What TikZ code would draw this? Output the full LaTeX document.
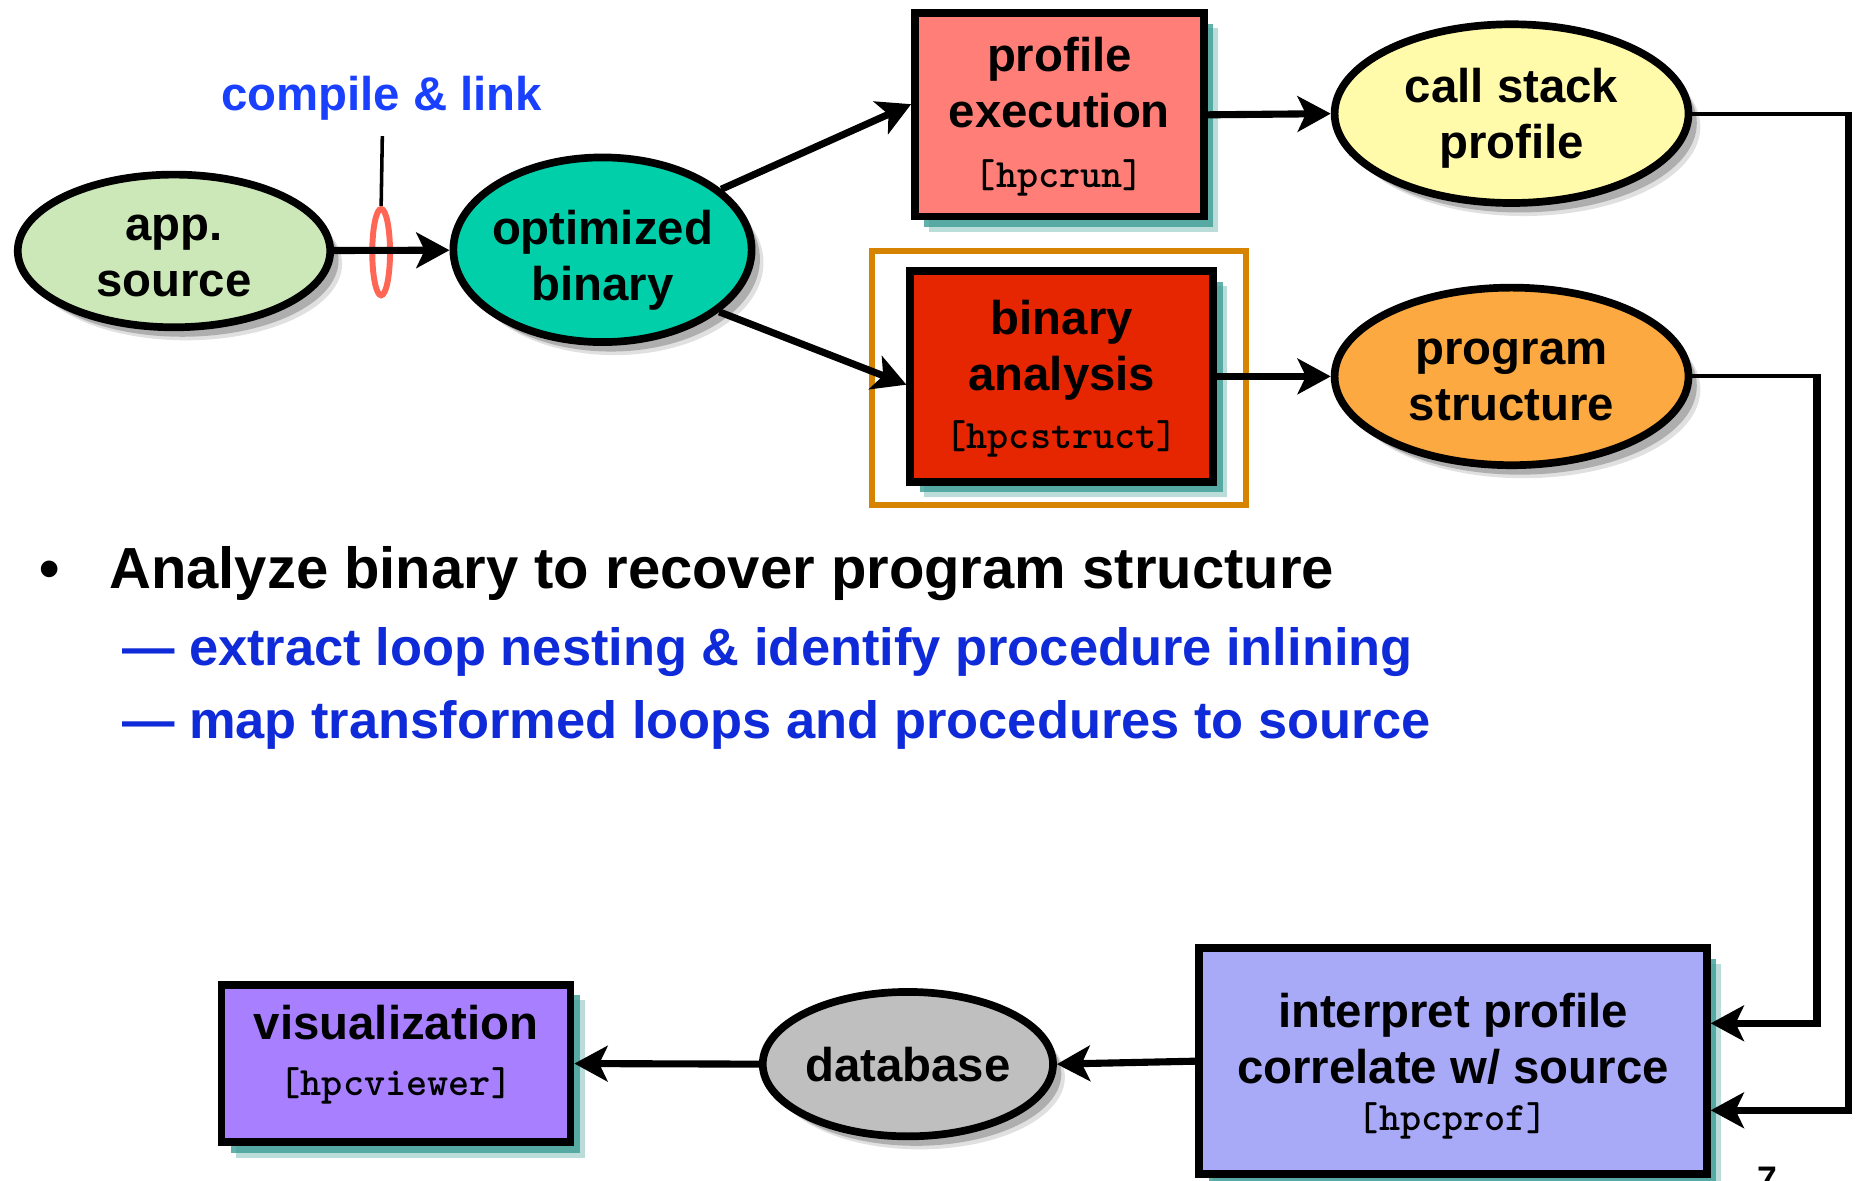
\documentclass[tikz,border=0pt]{standalone}
\usepackage{fontspec}
\setmainfont{Liberation Sans}
\newfontfamily\monofam{lmmonolt10-bold}[Extension=.otf]
\usetikzlibrary{shapes.geometric,arrows.meta,shadows,calc}
\definecolor{appc}{HTML}{CDE8B8}
\definecolor{optc}{HTML}{00CFAA}
\definecolor{profc}{HTML}{FF7F78}
\definecolor{callc}{HTML}{FFFBAA}
\definecolor{binc}{HTML}{E52600}
\definecolor{framec}{HTML}{D68400}
\definecolor{progc}{HTML}{FBA940}
\definecolor{interc}{HTML}{A8AAF8}
\definecolor{dbc}{HTML}{BEBFBE}
\definecolor{visc}{HTML}{A880FF}
\definecolor{ringc}{HTML}{FF6655}
\definecolor{shteal}{HTML}{3D9E96}
\definecolor{lblue}{HTML}{1A40FF}
\definecolor{dblue}{HTML}{0F2AD8}
\newcommand{\nodefnt}{\fontsize{40}{47}\selectfont\bfseries}
\newcommand{\monofnt}{\fontsize{34}{38}\selectfont\monofam}
\newcommand{\bulfnt}{\fontsize{49}{58}\selectfont\bfseries}
\newcommand{\subfnt}{\fontsize{44.3}{52}\selectfont\bfseries}
\begin{document}
\begin{tikzpicture}[x=1pt,y=-1pt,
  ellnode/.style={ellipse, draw=black, line width=6.5pt, inner sep=0pt, align=center, font=\nodefnt,
     drop shadow={shadow xshift=10pt, shadow yshift=-11pt, fill=black, opacity=0.12},
     drop shadow={shadow xshift=7pt, shadow yshift=-8pt, fill=black, opacity=0.22}},
  boxnode/.style={rectangle, draw=black, line width=6.5pt, inner sep=0pt, align=center, font=\nodefnt,
     drop shadow={shadow xshift=12pt, shadow yshift=-13pt, fill=shteal, opacity=0.35},
     drop shadow={shadow xshift=8pt, shadow yshift=-9pt, fill=shteal, opacity=0.8}},
  lbl/.style={inner sep=0pt, align=center, font=\nodefnt},
  conn/.style={line width=6pt, -{Stealth[length=28pt,width=30pt,inset=7pt]}},
  sideconn/.style={line width=6pt, -{Stealth[length=28pt,width=30pt,inset=7pt]}},
  thinline/.style={line width=3.5pt},
  txt/.style={inner sep=0pt, anchor=base west}
]
\useasboundingbox[fill=white] (0,0) rectangle (1568,997);
\clip (0,0) rectangle (1568,997);

% shapes
\node[ellnode, fill=appc, minimum width=264pt, minimum height=129pt] (app) at (147,212) {};
\node[lbl] (appT) at (147,216) {app.\\source};
\node[ellipse, draw=ringc, line width=5pt, minimum width=15pt, minimum height=73pt, inner sep=0pt] (ring) at (322,213) {};
\node[inner sep=0pt, anchor=base, font=\nodefnt, text=lblue] (cl) at (322.5,93) {compile \& link};
\coordinate (clt) at (323,115);
\node[ellnode, fill=optc, minimum width=252pt, minimum height=156pt] (opt) at (509,211) {};
\node[lbl] (optT) at (509,220) {optimized\\binary};

\node[boxnode, fill=profc, minimum width=244pt, minimum height=172pt] (prof) at (895,97) {};
\node[lbl] (profT) at (895,99) {profile\\execution\\[4pt]{\monofnt [hpcrun]}};
\node[ellnode, fill=callc, minimum width=299pt, minimum height=151pt] (call) at (1277,96) {};
\node[lbl] (callT) at (1277,100) {call stack\\profile};

\node[boxnode, fill=binc, minimum width=256pt, minimum height=178pt] (bin) at (897,318) {};
\node[lbl] (binT) at (897,320) {binary\\analysis\\[2pt]{\monofnt [hpcstruct]}};
\node[ellnode, fill=progc, minimum width=299pt, minimum height=150pt] (prog) at (1277,318) {};
\node[lbl] (progT) at (1277,321) {program\\structure};
\node[rectangle, draw=framec, line width=5pt, minimum width=316pt, minimum height=215pt, inner sep=0pt] (frame) at (895,319.5) {};

\node[boxnode, fill=interc, minimum width=429pt, minimum height=191pt] (interp) at (1227.5,896.5) {};
\node[lbl] (interpT) at (1227.5,901) {interpret profile\\correlate w/ source\\[-7pt]{\monofnt [hpcprof]}};
\node[ellnode, fill=dbc, minimum width=243pt, minimum height=122pt] (db) at (767,899) {database};
\node[boxnode, fill=visc, minimum width=295pt, minimum height=133pt] (vis) at (334.5,898.5) {};
\node[lbl] (visT) at (334.5,891) {visualization\\[1pt]{\monofnt [hpcviewer]}};

% bullet text
\node[inner sep=0pt, anchor=base, font=\bulfnt] (bdot) at (42,497) {•};
\node[txt, font=\bulfnt] (b1) at (92,497) {Analyze binary to recover program structure};
\node[txt, font=\subfnt, text=dblue] (s1) at (103,562) {— extract loop nesting \& identify procedure inlining};
\node[txt, font=\subfnt, text=dblue] (s2) at (103,624) {— map transformed loops and procedures to source};

\node[inner sep=0pt, anchor=north, font=\fontsize{30}{36}\selectfont\bfseries] (pg) at (1493,986) {7};

% connectors
\coordinate (r1) at (1562,96);
\coordinate (r2) at (1535,318);
\draw[line width=3pt] (clt) -- (ring.north);
\draw[conn] (app) -- (opt);
\draw[conn] (opt.27) -- ($(prof.west)+(0,-9)$);
\draw[conn] (opt.-28) -- ($(bin.west)+(0,7)$);
\draw[conn] (prof.east) -- (call.west);
\draw[conn] (bin.east) -- (prog.west);
\draw[thinline] (call.east) -- ($(r1)+(3,0)$);
\draw[sideconn] (r1) |- ($(interp.east)+(0,41.5)$);
\draw[thinline] (prog.east) -- ($(r2)+(3,0)$);
\draw[sideconn] (r2) |- ($(interp.east)+(0,-32)$);
\draw[conn] (interp.west) -- (db.east);
\draw[conn] (db.west) -- (vis.east);
\end{tikzpicture}
\end{document}
